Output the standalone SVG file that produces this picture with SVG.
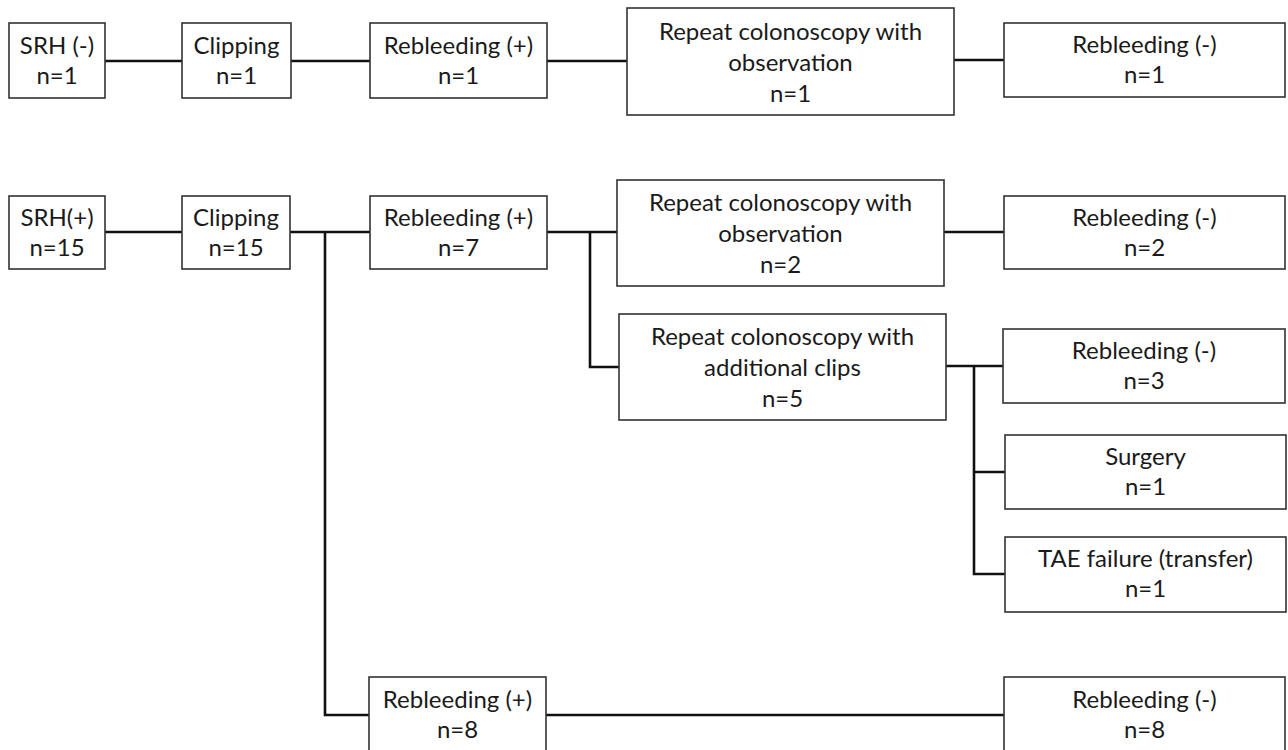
<svg xmlns="http://www.w3.org/2000/svg" width="1288" height="750" viewBox="0 0 1288 750">
<style>
.box{fill:#fff;stroke:#333;stroke-width:1.6}
.t{font-family:Lato,"Open Sans",sans-serif;font-size:24px;fill:#1a1a1a;text-anchor:middle}
.c{fill:none;stroke:#111;stroke-width:2.6}
</style>
<rect width="1288" height="750" fill="#fff"/>
<g id="connectors">
<path class="c" d="M105 61H182M291 61H370M547 61H627M954 60H1004"/>
<path class="c" d="M105 232H182M290 232H370M325 232V715H369M546 715H1004"/>
<path class="c" d="M547 232H617M590 232V367H619M944 232H1004"/>
<path class="c" d="M946 366H1003M974 366V574H1005M974 472H1005"/>
</g>
<g id="n1"><rect class="box" x="9" y="23" width="96" height="75"/><text class="t" x="57" y="54">SRH (-)</text><text class="t" x="57" y="84">n=1</text></g>
<g id="n2"><rect class="box" x="182" y="23" width="109" height="75"/><text class="t" x="236.5" y="54">Clipping</text><text class="t" x="236.5" y="84">n=1</text></g>
<g id="n3"><rect class="box" x="370" y="23" width="177" height="75"/><text class="t" x="458.5" y="54">Rebleeding (+)</text><text class="t" x="458.5" y="84">n=1</text></g>
<g id="n4"><rect class="box" x="627" y="8" width="327" height="107"/><text class="t" x="790.5" y="40">Repeat colonoscopy with</text><text class="t" x="790.5" y="71">observation</text><text class="t" x="790.5" y="102">n=1</text></g>
<g id="n5"><rect class="box" x="1004" y="23" width="281" height="74"/><text class="t" x="1144.5" y="53">Rebleeding (-)</text><text class="t" x="1144.5" y="83">n=1</text></g>
<g id="n6"><rect class="box" x="9" y="196" width="96" height="73"/><text class="t" x="57" y="226">SRH(+)</text><text class="t" x="57" y="256">n=15</text></g>
<g id="n7"><rect class="box" x="182" y="196" width="108" height="73"/><text class="t" x="236" y="226">Clipping</text><text class="t" x="236" y="256">n=15</text></g>
<g id="n8"><rect class="box" x="370" y="196" width="177" height="73"/><text class="t" x="458.5" y="226">Rebleeding (+)</text><text class="t" x="458.5" y="256">n=7</text></g>
<g id="n9"><rect class="box" x="617" y="180" width="327" height="106"/><text class="t" x="780.5" y="211">Repeat colonoscopy with</text><text class="t" x="780.5" y="242">observation</text><text class="t" x="780.5" y="273">n=2</text></g>
<g id="n10"><rect class="box" x="1004" y="196" width="281" height="73"/><text class="t" x="1144.5" y="226">Rebleeding (-)</text><text class="t" x="1144.5" y="256">n=2</text></g>
<g id="n11"><rect class="box" x="619" y="314" width="327" height="106"/><text class="t" x="782.5" y="345">Repeat colonoscopy with</text><text class="t" x="782.5" y="376">additional clips</text><text class="t" x="782.5" y="407">n=5</text></g>
<g id="n12"><rect class="box" x="1003" y="329" width="282" height="74"/><text class="t" x="1144" y="359">Rebleeding (-)</text><text class="t" x="1144" y="389">n=3</text></g>
<g id="n13"><rect class="box" x="1005" y="435" width="281" height="74"/><text class="t" x="1145.5" y="465">Surgery</text><text class="t" x="1145.5" y="495">n=1</text></g>
<g id="n14"><rect class="box" x="1005" y="537" width="281" height="75"/><text class="t" x="1145.5" y="567">TAE failure (transfer)</text><text class="t" x="1145.5" y="597">n=1</text></g>
<g id="n15"><rect class="box" x="369" y="677" width="177" height="76"/><text class="t" x="457.5" y="708">Rebleeding (+)</text><text class="t" x="457.5" y="738">n=8</text></g>
<g id="n16"><rect class="box" x="1004" y="677" width="281" height="76"/><text class="t" x="1144.5" y="708">Rebleeding (-)</text><text class="t" x="1144.5" y="738">n=8</text></g>
</svg>
